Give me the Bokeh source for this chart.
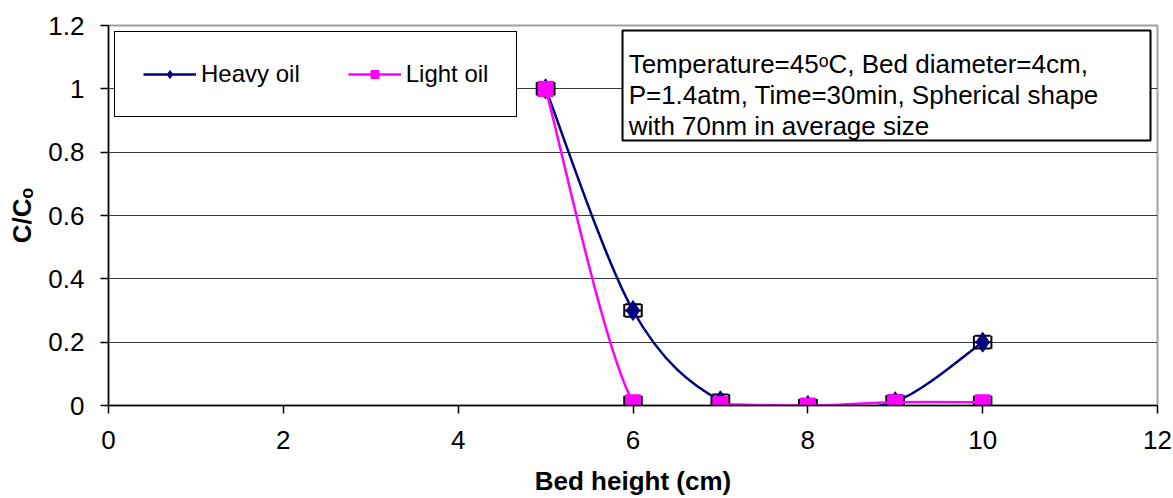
from bokeh.plotting import figure
from bokeh.models import (Range1d, FixedTicker, NumeralTickFormatter, Legend, LegendItem,
                          Whisker, TeeHead, BoxAnnotation, Label, ColumnDataSource)
from bokeh.embed import file_html
from bokeh.resources import INLINE

# ---- data ----
bed_height = [5, 6, 7, 8, 9, 10]
heavy_oil = [1.0, 0.30, 0.015, 0.0, 0.012, 0.20]
light_oil = [1.0, 0.01, 0.004, 0.0, 0.01, 0.01]
x_err = [0.1, 0.1, 0.1, 0.1, 0.1, 0.1]
y_err = [0.02, 0.02, 0.02, 0.02, 0.02, 0.02]
x_ticks = [0, 2, 4, 6, 8, 10, 12]
y_ticks = [0, 0.2, 0.4, 0.6, 0.8, 1.0, 1.2]
note_lines = ["Temperature=45\u1d52C, Bed diameter=4cm,",
              "P=1.4atm, Time=30min, Spherical shape",
              "with 70nm in average size"]

FONT = "Liberation Sans"
NAVY = "#000080"
MAGENTA = "#FF00FF"

p = figure(width=1173, height=498, output_backend="svg", toolbar_location=None,
           x_range=Range1d(0, 12), y_range=Range1d(0, 1.2),
           min_border_left=108, min_border_right=16, min_border_top=25, min_border_bottom=93)
p.background_fill_color = "white"
p.border_fill_color = "white"
p.outline_line_color = "#a0a0a0"
p.outline_line_width = 2

p.xgrid.visible = False
p.ygrid.ticker = FixedTicker(ticks=y_ticks)
p.ygrid.grid_line_color = "#3a3a3a"
p.ygrid.grid_line_width = 1.2

for ax in (p.xaxis[0], p.yaxis[0]):
    ax.axis_line_color = "black"
    ax.axis_line_width = 1.5
    ax.major_tick_line_color = "black"
    ax.major_tick_line_width = 1.5
    ax.major_tick_in = 0
    ax.major_tick_out = 8
    ax.minor_tick_line_color = None
    ax.major_label_text_font = FONT
    ax.major_label_text_font_size = "26px"
    ax.major_label_text_color = "black"
    ax.axis_label_text_font = FONT
    ax.axis_label_text_font_size = "26px"
    ax.axis_label_text_font_style = "bold"
    ax.axis_label_text_color = "black"

p.xaxis.ticker = FixedTicker(ticks=x_ticks)
p.yaxis.ticker = FixedTicker(ticks=y_ticks)
p.xaxis.formatter = NumeralTickFormatter(format="0")
p.yaxis.formatter = NumeralTickFormatter(format="0.[0]")
p.xaxis.major_label_standoff = 17
p.yaxis.major_label_standoff = 16
p.xaxis.axis_label = "Bed height (cm)"
p.yaxis.axis_label = "C/C\u2092"
p.xaxis.axis_label_standoff = 14
p.yaxis.axis_label_standoff = 8


def smooth_segments(xs, ys):
    """Bezier control points (Catmull-Rom style, like a spreadsheet's smoothed line)."""
    n = len(xs)
    d = dict(x0=[], y0=[], x1=[], y1=[], cx0=[], cy0=[], cx1=[], cy1=[])
    for i in range(n - 1):
        i0 = max(i - 1, 0)
        i3 = min(i + 2, n - 1)
        d["x0"].append(xs[i]); d["y0"].append(ys[i])
        d["x1"].append(xs[i + 1]); d["y1"].append(ys[i + 1])
        d["cx0"].append(xs[i] + (xs[i + 1] - xs[i0]) / 6.0)
        d["cy0"].append(ys[i] + (ys[i + 1] - ys[i0]) / 6.0)
        d["cx1"].append(xs[i + 1] - (xs[i3] - xs[i]) / 6.0)
        d["cy1"].append(ys[i + 1] - (ys[i3] - ys[i]) / 6.0)
    return ColumnDataSource(d)


def error_sources(xs, ys):
    return ColumnDataSource(dict(
        x=xs, y=ys,
        xl=[a - e for a, e in zip(xs, x_err)], xu=[a + e for a, e in zip(xs, x_err)],
        yl=[b - e for b, e in zip(ys, y_err)], yu=[b + e for b, e in zip(ys, y_err)]))


def add_errors(src):
    wx = Whisker(source=src, base="y", lower="xl", upper="xu", dimension="width",
                 line_color="black", line_width=2, level="underlay",
                 upper_head=TeeHead(size=13, line_color="black", line_width=2),
                 lower_head=TeeHead(size=13, line_color="black", line_width=2))
    wy = Whisker(source=src, base="x", lower="yl", upper="yu", dimension="height",
                 line_color="black", line_width=2, level="underlay",
                 upper_head=TeeHead(size=16, line_color="black", line_width=2),
                 lower_head=TeeHead(size=16, line_color="black", line_width=2))
    p.add_layout(wx)
    p.add_layout(wy)


hsrc = error_sources(bed_height, heavy_oil)
lsrc = error_sources(bed_height, light_oil)
add_errors(hsrc)
add_errors(lsrc)

heavy_line = p.bezier(x0="x0", y0="y0", x1="x1", y1="y1", cx0="cx0", cy0="cy0",
                      cx1="cx1", cy1="cy1", source=smooth_segments(bed_height, heavy_oil),
                      line_color=NAVY, line_width=2.5)
heavy_pts = p.scatter(x="x", y="y", source=hsrc, marker="diamond", size=20,
                      fill_color=NAVY, line_color=NAVY)
light_line = p.bezier(x0="x0", y0="y0", x1="x1", y1="y1", cx0="cx0", cy0="cy0",
                      cx1="cx1", cy1="cy1", source=smooth_segments(bed_height, light_oil),
                      line_color=MAGENTA, line_width=2.5)
light_pts = p.scatter(x="x", y="y", source=lsrc, marker="square", size=15,
                      fill_color=MAGENTA, line_color=MAGENTA)

legend = Legend(items=[LegendItem(label="Heavy oil", renderers=[heavy_line, heavy_pts]),
                       LegendItem(label="Light oil", renderers=[light_line, light_pts])],
                orientation="horizontal", location="top_left", margin=6,
                padding=28, spacing=48, glyph_width=53, glyph_height=20,
                label_standoff=5, label_text_font=FONT, label_text_font_size="24px",
                label_text_color="black", border_line_color="black", border_line_width=1.5,
                border_line_alpha=1.0,
                background_fill_color="white", background_fill_alpha=1.0)
p.add_layout(legend)

box = BoxAnnotation(left=5.88, right=11.92, top=1.184, bottom=0.837,
                    fill_color="white", fill_alpha=1.0, line_color="black", line_alpha=1.0,
                    line_width=2, level="annotation")
p.add_layout(box)
for txt, yy in zip(note_lines, [1.080, 0.982, 0.884]):
    p.add_layout(Label(x=5.95, y=yy, text=txt, text_font=FONT, text_font_size="26px",
                       text_color="black", text_baseline="alphabetic", text_align="left"))

open("out.html", "w").write(file_html(p, INLINE))
